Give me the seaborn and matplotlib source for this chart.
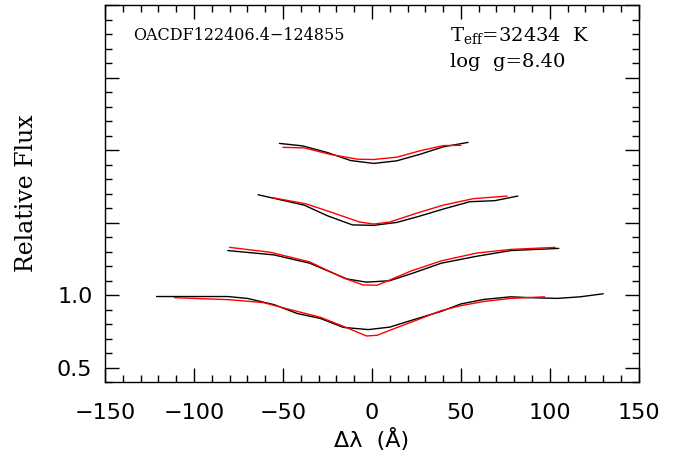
import numpy as np
import pandas as pd
import matplotlib
matplotlib.use("Agg")
import matplotlib.pyplot as plt
import seaborn as sns
from matplotlib.ticker import MultipleLocator, FuncFormatter

# -------------------------
# Data
# -------------------------
obs1_x = [-121, -81, -70, -55, -42, -29, -16, -2, 10, 22, 39, 50, 63, 78, 89, 104, 117, 130]
obs1_y = [0.990, 0.990, 0.977, 0.934, 0.873, 0.839, 0.777, 0.762, 0.779, 0.825, 0.888, 0.939,
          0.970, 0.988, 0.982, 0.977, 0.988, 1.009]
mod1_x = [-111, -80, -61, -46, -29, -16, -3, 3, 10, 16, 27, 39, 50, 63, 78, 97]
mod1_y = [0.982, 0.968, 0.948, 0.900, 0.847, 0.784, 0.718, 0.723, 0.757, 0.785, 0.836, 0.893,
          0.927, 0.956, 0.977, 0.988]

obs2_x = [-81, -55, -35, -14, -3, 10, 22, 39, 59, 78, 105]
obs2_y = [1.307, 1.277, 1.220, 1.111, 1.089, 1.099, 1.147, 1.220, 1.268, 1.307, 1.322]
mod2_x = [-80, -57, -35, -16, -5, 3, 10, 22, 39, 59, 78, 103]
mod2_y = [1.329, 1.295, 1.229, 1.118, 1.070, 1.068, 1.104, 1.166, 1.236, 1.290, 1.315, 1.329]

obs3_x = [-64, -38, -25, -11, 1, 14, 27, 40, 55, 69, 82]
obs3_y = [1.692, 1.620, 1.547, 1.484, 1.481, 1.501, 1.545, 1.593, 1.644, 1.651, 1.683]
mod3_x = [-56, -37, -23, -7, 1, 10, 27, 40, 57, 76]
mod3_y = [1.672, 1.629, 1.572, 1.504, 1.490, 1.504, 1.572, 1.620, 1.665, 1.683]

obs4_x = [-52, -39, -25, -12, 1, 14, 27, 40, 54]
obs4_y = [2.046, 2.029, 1.983, 1.928, 1.908, 1.926, 1.971, 2.022, 2.053]
mod4_x = [-50, -38, -23, -8, 1, 14, 27, 40, 50]
mod4_y = [2.019, 2.015, 1.969, 1.937, 1.935, 1.951, 1.995, 2.031, 2.033]

star_name = "OACDF122406.4\u2212124855"
teff_label = r"T$_{\mathrm{eff}}$=32434  K"
logg_label = "log  g=8.40"
y_labelled = [0.5, 1.0]

# -------------------------
# Long table for seaborn
# -------------------------
frames = []
for i, (ox, oy, mx, my) in enumerate([(obs1_x, obs1_y, mod1_x, mod1_y),
                                       (obs2_x, obs2_y, mod2_x, mod2_y),
                                       (obs3_x, obs3_y, mod3_x, mod3_y),
                                       (obs4_x, obs4_y, mod4_x, mod4_y)]):
    frames.append(pd.DataFrame({"dl": ox, "flux": oy, "kind": "obs", "line": i}))
    frames.append(pd.DataFrame({"dl": mx, "flux": my, "kind": "model", "line": i}))
df = pd.concat(frames, ignore_index=True)
df["unit"] = df["kind"] + df["line"].astype(str)

# -------------------------
# Plot
# -------------------------
sns.set_style("ticks")
plt.rcParams["font.family"] = ["DejaVu Sans"]
plt.rcParams["mathtext.fontset"] = "dejavuserif"
plt.rcParams["text.color"] = "black"
plt.rcParams["axes.labelcolor"] = "black"
plt.rcParams["xtick.color"] = "black"
plt.rcParams["ytick.color"] = "black"

fig = plt.figure(figsize=(6.84, 4.62), dpi=100)
ax = fig.add_axes([0.1535, 0.173, 0.7805, 0.816])

sns.lineplot(data=df, x="dl", y="flux", hue="kind", units="unit", estimator=None,
             sort=False, palette={"obs": "black", "model": "red"},
             linewidth=1.0, legend=False, ax=ax)

ax.set_xlim(-150, 150)
ax.set_ylim(0.4, 3.0)

ax.xaxis.set_major_locator(MultipleLocator(50))
ax.xaxis.set_minor_locator(MultipleLocator(10))
ax.yaxis.set_major_locator(MultipleLocator(0.5))
ax.yaxis.set_minor_locator(MultipleLocator(0.1))
ax.xaxis.set_major_formatter(FuncFormatter(lambda v, p: f"{v:.0f}".replace("-", "\u2212")))
ax.yaxis.set_major_formatter(FuncFormatter(
    lambda v, p: f"{v:.1f}" if any(abs(v - t) < 1e-6 for t in y_labelled) else ""))

ax.tick_params(which="both", direction="in", top=True, right=True, width=1.0,
               color="black", labelcolor="black")
ax.tick_params(which="major", length=10, labelsize=16)
ax.tick_params(which="minor", length=5)
ax.tick_params(axis="x", which="major", pad=15)
ax.tick_params(axis="y", which="major", pad=9)
for s in ax.spines.values():
    s.set_linewidth(1.0)
    s.set_color("black")

ax.set_xlabel("\u0394\u03bb  (\u00c5)", fontsize=16, labelpad=4, color="black")
ax.set_ylabel("Relative Flux", fontsize=17, family="DejaVu Serif", labelpad=14, color="black")

ax.text(-134, 2.787, star_name, fontsize=11.5, family="DejaVu Serif", va="center", ha="left")
ax.text(44, 2.787, teff_label, fontsize=14, family="DejaVu Serif", va="center", ha="left")
ax.text(44, 2.61, logg_label, fontsize=14, family="DejaVu Serif", va="center", ha="left")

fig.savefig("out.png", dpi=100)
